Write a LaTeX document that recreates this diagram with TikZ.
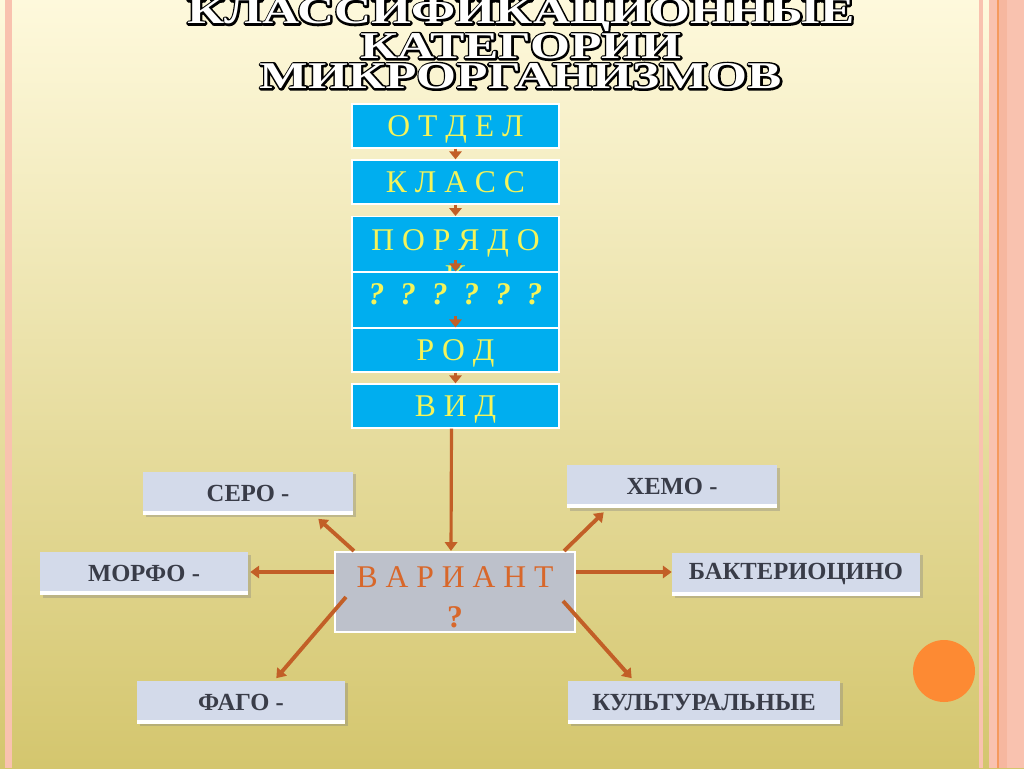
\documentclass[tikz,border=0pt]{standalone}
\usepackage{fontspec}
\setmainfont{Liberation Serif}
\newfontfamily\titlefont[FakeStretch=1.36]{Liberation Serif}
\newcommand\obvod[1]{\rlap{\special{pdf:literal direct 0 0 0 RG 2.2 w 1 j 2 Tr}#1\special{pdf:literal direct 0 Tr}}#1}
\usetikzlibrary{arrows.meta,positioning,calc,shadows}
\definecolor{fonverh}{HTML}{FEF9DC}
\definecolor{fonniz}{HTML}{D4C66E}
\definecolor{roz}{HTML}{F9C2AF}
\definecolor{rozt}{HTML}{F6B79F}
\definecolor{oranzh}{HTML}{F59A5E}
\definecolor{krug}{HTML}{FD8A33}
\definecolor{sinij}{HTML}{00AEEF}
\definecolor{zhelt}{HTML}{F4F45A}
\definecolor{seryj}{HTML}{BDC1CB}
\definecolor{rzh}{HTML}{D8672A}
\definecolor{korich}{HTML}{C25F27}
\definecolor{lavand}{HTML}{D3DAEA}
\definecolor{tekst}{HTML}{393C48}
\tikzset{
  tax/.style={draw=white,line width=0.8pt,fill=sinij,text=zhelt,
    minimum width=4.14cm,minimum height=0.88cm,inner sep=0pt,text depth=0pt,
    font=\fontsize{18}{20.4}\selectfont,align=center},
  var/.style={draw=white,line width=1.2pt,fill=seryj,text=rzh,
    minimum width=4.8cm,minimum height=1.6cm,inner sep=0pt,
    font=\fontsize{18}{22.7}\selectfont,align=center},
  prizn/.style={fill=lavand,text=tekst,minimum height=0.86cm,inner sep=0pt,
    font=\bfseries\fontsize{14}{16}\selectfont,
    drop shadow={shadow xshift=1.5pt,shadow yshift=-1.5pt,opacity=0.35},
    path picture={\fill[white] (path picture bounding box.south west)
      rectangle ($(path picture bounding box.south east)+(0,-4)$);}},
  strel/.style={draw=korich,line width=2.2pt,-{Triangle[width=7pt,length=5pt]}},
  mstrel/.style={draw=korich,line width=2pt,-{Triangle[width=7pt,length=4.5pt]}},
}
\begin{document}
\begin{tikzpicture}[x=0.02cm,y=-0.02cm]
  % фон и полосы
  \shade[top color=fonverh,bottom color=fonniz] (0,0) rectangle (1024,768);
  \useasboundingbox (0,0) rectangle (1024,768);
  \fill[roz] (5,0) rectangle (12,768);
  \fill[roz] (979,0) rectangle (983,768);
  \fill[roz] (989,0) rectangle (1024,768);
  \fill[rozt] (999,0) rectangle (1007,768);
  \fill[oranzh] (997,0) rectangle (999,768);
  \fill[krug] (944,671) circle (0.62cm);
  % заголовок
  \node[text=white,align=center,font=\titlefont\bfseries\fontsize{21.5}{17}\selectfont]
    (zag) at (521,44) {\obvod{КЛАССИФИКАЦИОННЫЕ}\\
      \obvod{КАТЕГОРИИ}\\ \obvod{МИКРОРГАНИЗМОВ}};
  % таксоны
  \node[tax] (otdel) at (455.5,126) {О Т Д Е Л};
  \node[tax] (klass) at (455.5,182) {К Л А С С};
  \node[tax,anchor=north,inner ysep=0.26cm] (poryad) at (455.5,216)
    {П О Р Я Д О\\К};
  \node[tax,minimum height=1.12cm,text depth=0.24cm] (semeyst) at (455.5,300)
    {\bfseries\itshape ?\enspace?\enspace?\enspace?\enspace?\enspace?};
  \node[tax] (rod) at (455.5,350) {Р О Д};
  \node[tax] (vid) at (455.5,406) {В И Д};
  \draw[mstrel] (otdel.south) -- (klass.north);
  \draw[mstrel] (klass.south) -- (poryad.north);
  \draw[mstrel] ($(semeyst.north)+(0,-11)$) -- (semeyst.north);
  \draw[mstrel] ($(rod.north)+(0,-11)$) -- (rod.north);
  \draw[mstrel] (rod.south) -- (vid.north);
  % вариант
  \node[var] (variant) at (455,592) {\rule{0pt}{1em}В А Р И А Н Т\\\textbf{?}};
  \draw[strel,line width=1.8pt] ($(vid.south)+(-4,0)$) -- ($(variant.north)+(-4,0)$);
  \node[prizn,minimum width=4.2cm] (sero) at (248,493) {СЕРО -};
  \node[prizn,minimum width=4.16cm] (morfo) at (144,573.5) {МОРФО -};
  \node[prizn,minimum width=4.2cm] (hemo) at (672,486.5) {ХЕМО -};
  \node[prizn,minimum width=4.96cm] (bakt) at (796,574) {БАКТЕРИОЦИНО};
  \node[prizn,minimum width=4.16cm] (fago) at (241,702) {ФАГО -};
  \node[prizn,minimum width=5.44cm] (kult) at (704,702) {КУЛЬТУРАЛЬНЫЕ};
  \draw[strel] ($(variant.north west)+(20,0)$) -- ($(sero.south east)+(-35,4)$);
  \draw[strel] ($(variant.west)+(0,-20)$) -- ($(morfo.east)+(2,-1.5)$);
  \draw[strel] ($(variant.north east)+(-12,0)$) -- ($(hemo.south west)+(37,4)$);
  \draw[strel] ($(variant.east)+(0,-20)$) -- ($(bakt.west)+(0,-2)$);
  \draw[strel] ($(variant.west)+(12,5)$) -- ($(fago.north east)+(-69,-2)$);
  \draw[strel] ($(variant.east)+(-13,9)$) -- ($(kult.north west)+(64,-2)$);
\end{tikzpicture}
\end{document}
